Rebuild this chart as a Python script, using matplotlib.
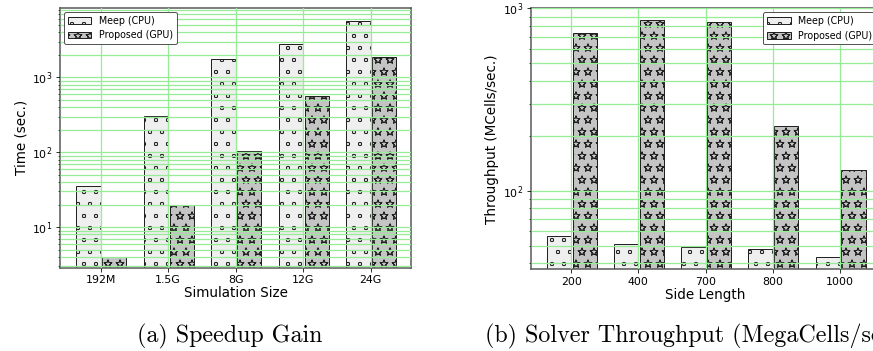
import matplotlib
matplotlib.use("Agg")
import matplotlib.pyplot as plt
import matplotlib.hatch as mhatch
import numpy as np

# ---- data ----
sizes = ["192M", "1.5G", "8G", "12G", "24G"]
time_cpu = [36, 302, 1740, 2840, 5750]
time_gpu = [4.0, 19.7, 103, 560, 1900]

sides = ["200", "400", "700", "800", "1000"]
thr_cpu = [56.8, 51.3, 49.4, 47.7, 43.6]
thr_gpu = [730, 860, 838, 226, 130]

series_labels = ["Meep (CPU)", "Proposed (GPU)"]
captions = ["(a) Speedup Gain", "(b) Solver Throughput (MegaCells/sec.)"]


# hollow stars and smaller circles for the hatch patterns
class HollowStars(mhatch.Stars):
    filled = False


class TinyCircles(mhatch.SmallCircles):
    size = 0.14


mhatch._hatch_types = [
    HollowStars if t is mhatch.Stars else (TinyCircles if t is mhatch.SmallCircles else t)
    for t in mhatch._hatch_types
]

grid_c = "#98ec98"
plt.rcParams["hatch.linewidth"] = 0.8
plt.rcParams["grid.color"] = grid_c
plt.rcParams["grid.linewidth"] = 1.3

DPI = 72
fig = plt.figure(figsize=(873 / DPI, 351 / DPI), dpi=DPI)

W, H = 873.0, 351.0
def px_axes(x0, y0, x1, y1):
    return fig.add_axes([x0 / W, 1 - y1 / H, (x1 - x0) / W, (y1 - y0) / H])

ax1 = px_axes(60, 8, 411, 267.5)
ax2 = px_axes(531, 8.3, 880, 269.3)

cpu_fc = "#efefef"
gpu_fc = "#c4c4c4"
edge = "#222222"
spine_c = "#555555"
width = 0.36
gap = 0.025

def draw(ax, cats, cpu, gpu, ylim, ylabel, xlabel, legloc):
    x = np.arange(len(cats))
    ax.bar(x - width / 2, cpu, width, color=cpu_fc, edgecolor=edge, hatch="o",
           linewidth=1.0, label=series_labels[0], zorder=1)
    ax.bar(x + width / 2 + gap, gpu, width, color=gpu_fc, edgecolor=edge, hatch="*",
           linewidth=1.0, label=series_labels[1], zorder=1)
    ax.set_yscale("log")
    ax.set_ylim(*ylim)
    ax.set_xlim(-0.6, len(cats) - 1 + 0.6)
    ax.set_xticks(x)
    ax.set_xticklabels(cats)
    ax.set_axisbelow(False)
    ax.grid(True, which="both", axis="y", color=grid_c, linewidth=1.3)
    ax.grid(True, which="major", axis="x", color=grid_c, linewidth=1.3)
    ax.tick_params(axis="both", which="major", labelsize=11, length=4)
    ax.tick_params(axis="y", which="minor", length=2)
    ax.set_ylabel(ylabel, fontsize=13.5)
    ax.set_xlabel(xlabel, fontsize=13.5, labelpad=1)
    for s in ax.spines.values():
        s.set_color(spine_c)
        s.set_linewidth(1.5)
    leg = ax.legend(loc=legloc, fontsize=9.5, frameon=True, fancybox=True,
                    framealpha=1.0, edgecolor="#555555", handlelength=2.5,
                    borderaxespad=0.4)
    leg.get_frame().set_linewidth(1.0)

draw(ax1, sizes, time_cpu, time_gpu, (2.89, 8480), "Time (sec.)",
     "Simulation Size", "upper left")
draw(ax2, sides, thr_cpu, thr_gpu, (37.1, 1000), "Throughput (MCells/sec.)",
     "Side Length", "upper right")

fig.text(230 / W, 1 - 342 / H, captions[0], family="cmr10", fontsize=24,
         ha="center", va="baseline")
fig.text(485 / W, 1 - 342 / H, captions[1], family="cmr10", fontsize=24,
         ha="left", va="baseline")

fig.savefig("out.png", dpi=DPI)
